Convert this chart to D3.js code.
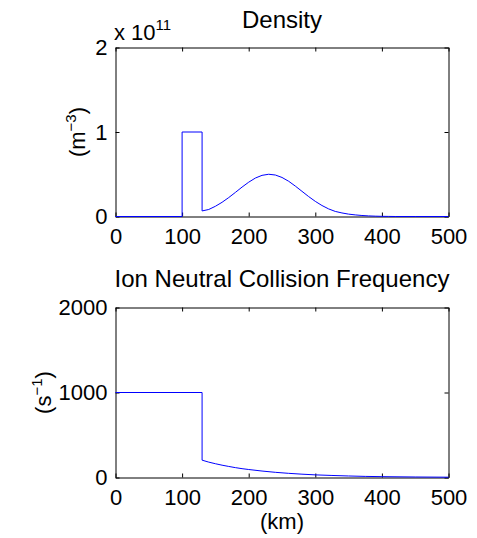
<!DOCTYPE html>
<html>
<head>
<meta charset="utf-8">
<script src="https://cdn.jsdelivr.net/npm/d3@7"></script>
<style>
  html, body { margin: 0; padding: 0; background: #fff; }
  svg { display: block; }
  text { font-family: "Liberation Sans", Arial, Helvetica, sans-serif; fill: #000; }
</style>
</head>
<body>
<svg id="chart" width="477" height="538"></svg>
<script>
// ---- Data ----
// Density panel: altitude (km) and density (units of 1e11 m^-3)
const densityKm = [0, 100, 100, 130, 130, 140, 150, 160, 170, 180, 190, 200, 210, 220, 230, 240, 250, 260, 270, 280, 290, 300, 310, 320, 330, 340, 350, 360, 370, 380, 390, 400, 410, 420, 450, 500];
const densityVal = [0, 0, 1, 1, 0.066, 0.083, 0.121, 0.168, 0.224, 0.285, 0.348, 0.406, 0.455, 0.487, 0.5, 0.491, 0.462, 0.417, 0.36, 0.298, 0.236, 0.179, 0.13, 0.09, 0.06, 0.042, 0.028, 0.019, 0.012, 0.007, 0.004, 0.002, 0.001, 0, 0, 0];
// Collision frequency panel: altitude (km) and frequency (s^-1)
const collisionKm = [0, 130, 130, 140, 150, 160, 170, 180, 190, 200, 220, 240, 260, 280, 300, 325, 350, 375, 400, 450, 500];
const collisionVal = [1000, 1000, 204, 181, 162, 145, 130, 116, 104, 94, 76, 61, 49, 39, 31, 24, 18, 13, 10, 6, 3.5];
// Tick values
const xTicks = [0, 100, 200, 300, 400, 500];
const densityTicks = [0, 1, 2];
const collisionTicks = [0, 1000, 2000];

const svg = d3.select("#chart");
const L = 115.5, R = 448.5;
const x = d3.scaleLinear().domain([0, 500]).range([L, R]);

function panel(top, bottom, yDomain, yTicks, kmArr, valArr) {
  const y = d3.scaleLinear().domain(yDomain).range([bottom, top]);
  const g = svg.append("g");
  const tk = 4;
  g.append("g").attr("transform", `translate(0,${bottom})`)
    .call(d3.axisBottom(x).tickValues(xTicks).tickSize(-tk).tickSizeOuter(0).tickPadding(12).tickFormat(d3.format("d")));
  g.append("g").attr("transform", `translate(0,${top})`)
    .call(d3.axisTop(x).tickValues(xTicks).tickSize(-tk).tickSizeOuter(0).tickFormat(""));
  g.append("g").attr("transform", `translate(${L},0)`)
    .call(d3.axisLeft(y).tickValues(yTicks).tickSize(-tk).tickSizeOuter(0).tickPadding(8).tickFormat(d3.format("d")));
  g.append("g").attr("transform", `translate(${R},0)`)
    .call(d3.axisRight(y).tickValues(yTicks).tickSize(-tk).tickSizeOuter(0).tickFormat(""));
  g.selectAll(".domain").attr("stroke", "#000").attr("stroke-width", 1);
  g.selectAll(".tick line").attr("stroke", "#000").attr("stroke-width", 1);
  g.selectAll(".tick text").attr("font-size", 22).attr("font-family", "Liberation Sans, Arial, sans-serif").attr("fill", "#000");

  const pts = kmArr.map((k, i) => [k, valArr[i]]);
  const line = d3.line().x(d => x(d[0])).y(d => y(d[1]));
  svg.append("path").datum(pts)
    .attr("d", line).attr("fill", "none").attr("stroke", "#0000ff").attr("stroke-width", 1);
  return y;
}

panel(47.5, 216.5, [0, 2], densityTicks, densityKm, densityVal);
panel(307.5, 477.5, [0, 2000], collisionTicks, collisionKm, collisionVal);

const cx = (L + R) / 2;
svg.append("text").attr("x", cx).attr("y", 28).attr("text-anchor", "middle").attr("font-size", 24).text("Density");
svg.append("text").attr("x", cx).attr("y", 287).attr("text-anchor", "middle").attr("font-size", 24).text("Ion Neutral Collision Frequency");

const ex = svg.append("text").attr("x", 114).attr("y", 40).attr("font-size", 22);
ex.append("tspan").text("x 10");
ex.append("tspan").attr("dy", -10).attr("font-size", 15).text("11");

function ylabel(bx, cy, base, sup) {
  const t = svg.append("text").attr("transform", `translate(${bx},${cy}) rotate(-90)`)
    .attr("text-anchor", "middle").attr("font-size", 22);
  t.append("tspan").text(base);
  t.append("tspan").attr("dy", -9).attr("font-size", 15).text(sup);
  t.append("tspan").attr("dy", 9).text(")");
}
ylabel(85, 132, "(m", "\u22123");
ylabel(51, 392.5, "(s", "\u22121");

svg.append("text").attr("x", cx).attr("y", 529).attr("text-anchor", "middle").attr("font-size", 22).text("(km)");
</script>
</body>
</html>
